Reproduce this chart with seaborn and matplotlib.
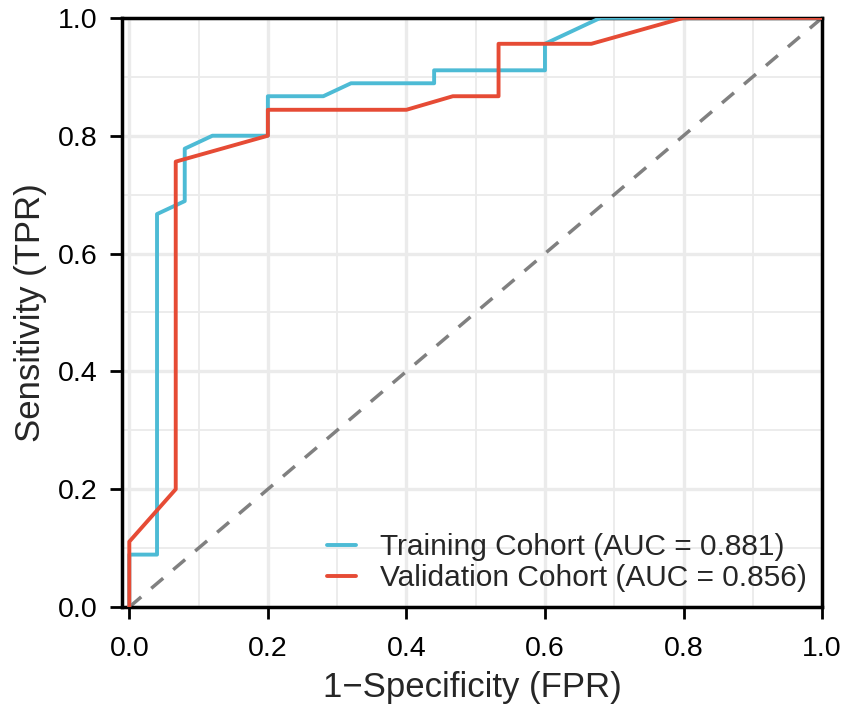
import matplotlib
matplotlib.use("Agg")
import matplotlib.pyplot as plt
import pandas as pd
import seaborn as sns
from matplotlib.ticker import MultipleLocator

# ROC points
train_fpr = [0.0, 0.0, 0.04, 0.04, 0.08, 0.08, 0.12, 0.20, 0.20, 0.28, 0.32, 0.44, 0.44, 0.60, 0.60, 0.68, 1.0]
train_tpr = [0.0, 0.089, 0.089, 0.667, 0.689, 0.778, 0.80, 0.80, 0.867, 0.867, 0.889, 0.889, 0.911, 0.911, 0.956, 1.0, 1.0]

valid_fpr = [0.0, 0.0, 0.067, 0.067, 0.20, 0.20, 0.40, 0.467, 0.533, 0.533, 0.667, 0.80, 1.0]
valid_tpr = [0.0, 0.111, 0.20, 0.756, 0.80, 0.844, 0.844, 0.867, 0.867, 0.956, 0.956, 1.0, 1.0]

labels = ["Training Cohort (AUC = 0.881)", "Validation Cohort (AUC = 0.856)"]
colors = ["#4DBBD5", "#E64B35"]

df = pd.concat([
    pd.DataFrame({"fpr": train_fpr, "tpr": train_tpr, "cohort": labels[0]}),
    pd.DataFrame({"fpr": valid_fpr, "tpr": valid_tpr, "cohort": labels[1]}),
], ignore_index=True)

sns.set_theme(style="white")
plt.rcParams['font.family'] = ['Liberation Sans', 'DejaVu Sans']

fig, ax = plt.subplots(figsize=(8.51, 7.15), dpi=100)
fig.subplots_adjust(left=0.143, right=0.966, top=0.975, bottom=0.151)

# grid like ggplot theme_bw
ax.xaxis.set_major_locator(MultipleLocator(0.2))
ax.yaxis.set_major_locator(MultipleLocator(0.2))
ax.xaxis.set_minor_locator(MultipleLocator(0.1))
ax.yaxis.set_minor_locator(MultipleLocator(0.1))
ax.grid(which="major", color="#EBEBEB", linewidth=2.4)
ax.grid(which="minor", color="#EBEBEB", linewidth=1.3)
ax.set_axisbelow(True)

# chance line
ax.plot([0, 1], [0, 1], linestyle=(0, (4.5, 3.8)), color="#808080", linewidth=2.5, zorder=2)

sns.lineplot(data=df, x="fpr", y="tpr", hue="cohort", palette=colors,
             estimator=None, sort=False, linewidth=2.8, ax=ax, zorder=3)

ax.set_xlim(-0.011, 1.0)
ax.set_ylim(0, 1.0)
ax.tick_params(which="major", direction="out", length=8.5, width=2, color="black",
               labelsize=20.5, labelcolor="black", bottom=True, left=True)
ax.tick_params(axis="x", which="major", pad=12)
ax.tick_params(axis="y", which="major", pad=9)
ax.tick_params(which="minor", length=0)
for s in ax.spines.values():
    s.set_color("black")
    s.set_linewidth(2.5)

ax.set_xlabel("1\u2212Specificity (FPR)", fontsize=25, labelpad=7)
ax.set_ylabel("Sensitivity (TPR)", fontsize=25, labelpad=8)

leg = ax.legend(loc="lower right", frameon=False, fontsize=21.5, handlelength=1.0,
                handletextpad=0.8, borderaxespad=0.1, labelspacing=0.1)
for h in leg.get_lines():
    h.set_linewidth(2.8)

fig.savefig("out.png", dpi=100)
